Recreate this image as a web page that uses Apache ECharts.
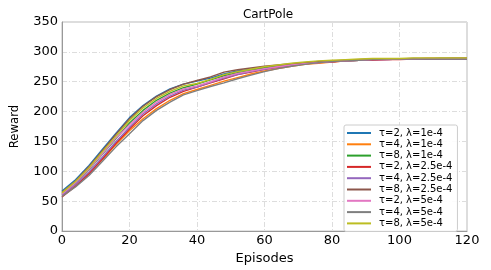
<!DOCTYPE html>
<html><head><meta charset="utf-8">
<script src="https://cdn.jsdelivr.net/npm/echarts@6/dist/echarts.min.js"></script>
<style>html,body{margin:0;padding:0;background:#fff}#c{width:491px;height:270px}</style>
</head><body><div id="c"></div>
<script>
const episodes = [0,4,8,12,16,20,24,28,32,36,40,44,48,52,56,60,64,68,72,76,80,84,88,92,96,100,104,108,112,116,120];
const s_t2_1e4 = [67,86,110,137,164,190,210,226,238,246,251,256,263,268,271,274,277,279,281,283,284,285,286,287,287,288,288,288,289,289,289];
const s_t4_1e4 = [60,76,97,120,145,168,188,205,219,230,237,244,251,257,263,268,272,276,279,281,283,285,286,287,287,288,288,289,289,289,289];
const s_t8_1e4 = [63,80,103,129,155,181,202,219,231,240,246,253,260,265,269,273,276,279,281,283,284,285,286,287,288,288,288,288,289,289,289];
const s_t2_25e4 = [57,75,96,121,147,171,193,210,224,234,241,248,255,262,266,271,274,277,280,282,283,285,286,286,287,287,288,288,288,289,289];
const s_t4_25e4 = [60,78,99,124,150,174,196,213,226,236,241,249,256,262,267,271,275,278,280,282,284,285,286,287,287,288,288,288,288,288,288];
const s_t8_25e4 = [65,84,108,135,162,188,209,225,237,246,252,258,266,270,273,276,278,280,282,284,285,286,287,288,288,288,289,289,289,289,289];
const s_t2_5e4 = [62,81,104,130,156,178,199,216,229,238,243,250,258,264,268,272,275,278,280,282,284,285,286,287,287,288,288,289,289,289,289];
const s_t4_5e4 = [58,74,93,117,141,163,185,202,216,228,235,242,248,255,261,267,272,276,279,282,284,285,286,287,288,288,288,288,288,288,288];
const s_t8_5e4 = [64,83,106,133,159,185,206,222,234,243,247,254,262,267,271,275,278,281,283,285,286,287,288,289,289,289,290,290,290,290,290];
const seriesNames = ['τ=2, λ=1e-4','τ=4, λ=1e-4','τ=8, λ=1e-4','τ=2, λ=2.5e-4','τ=4, λ=2.5e-4','τ=8, λ=2.5e-4','τ=2, λ=5e-4','τ=4, λ=5e-4','τ=8, λ=5e-4'];
const seriesValues = [s_t2_1e4,s_t4_1e4,s_t8_1e4,s_t2_25e4,s_t4_25e4,s_t8_25e4,s_t2_5e4,s_t4_5e4,s_t8_5e4];
const colors = ['#1f77b4','#ff7f0e','#2ca02c','#d62728','#9467bd','#8c564b','#e377c2','#7f7f7f','#bcbd22'];
const xTicks = [0,20,40,60,80,100,120];
const yTicks = [0,50,100,150,200,250,300,350];

const font = 'DejaVu Sans';
const chart = echarts.init(document.getElementById('c'));
chart.setOption({
  animation: false,
  color: colors,
  title: {text: 'CartPole', left: 263, top: 4, textAlign: 'center',
    textStyle: {fontFamily: font, fontSize: 12, fontWeight: 'normal', color: '#000'}},
  grid: {left: 60, right: 24, top: 22, bottom: 35, show: true, borderColor: '#bbb', borderWidth: 1},
  xAxis: {type: 'value', min: xTicks[0], max: xTicks[xTicks.length-1], interval: 20,
    name: 'Episodes', nameLocation: 'middle', nameGap: 18,
    nameTextStyle: {fontFamily: font, fontSize: 13, color: '#000'},
    axisLine: {show: true, lineStyle: {color: '#999'}}, axisTick: {show: false},
    axisLabel: {fontFamily: font, fontSize: 13, color: '#000', margin: 3},
    splitLine: {show: true, lineStyle: {color: '#ddd', type: [5, 2, 1, 2]}}},
  yAxis: {type: 'value', min: yTicks[0], max: yTicks[yTicks.length-1], interval: 50,
    name: 'Reward', nameLocation: 'middle', nameGap: 41,
    nameTextStyle: {fontFamily: "'Liberation Sans Narrow', 'DejaVu Sans Condensed', 'Liberation Sans', sans-serif", fontSize: 13, color: '#000'},
    axisLine: {show: true, lineStyle: {color: '#999'}}, axisTick: {show: false},
    axisLabel: {fontFamily: font, fontSize: 13, color: '#000', margin: 4},
    splitLine: {show: true, lineStyle: {color: '#ddd', type: [5, 2, 1, 2]}}},
  legend: {orient: 'vertical', left: 344, top: 125, itemWidth: 24, itemHeight: 2, itemGap: 1.3,
    padding: [3, 5, 3, 3], backgroundColor: 'rgba(255,255,255,0.9)', borderColor: '#ccc', borderWidth: 1, borderRadius: 2,
    icon: 'rect',
    textStyle: {fontFamily: font, fontSize: 10, color: '#000', padding: [0,0,0,3]},
    data: seriesNames},
  series: seriesNames.map((n, i) => ({
    name: n, type: 'line', showSymbol: false, symbol: 'none',
    lineStyle: {width: 1.4, color: colors[i]}, itemStyle: {color: colors[i]},
    data: episodes.map((e, k) => [e, seriesValues[i][k]])
  }))
});
</script></body></html>
